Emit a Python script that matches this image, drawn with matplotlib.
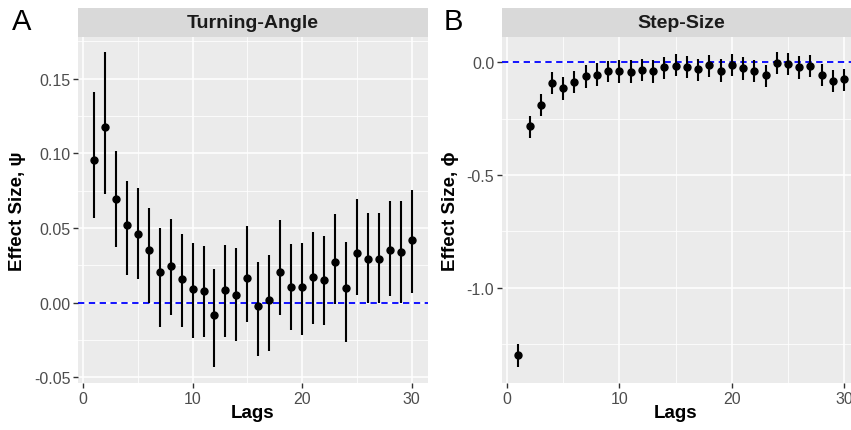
import matplotlib.pyplot as plt
from matplotlib.ticker import MultipleLocator

plt.rcParams['font.family'] = ['Liberation Sans', 'DejaVu Sans']

# values
lags = list(range(1, 31))

ta_est = [0.0958, 0.118, 0.0693, 0.0521, 0.0461, 0.0352, 0.0203, 0.0247, 0.0156, 0.0089,
          0.0078, -0.0085, 0.0082, 0.0049, 0.0165, -0.0020, 0.0020, 0.0207, 0.0105, 0.0105,
          0.0174, 0.0152, 0.0270, 0.0098, 0.0336, 0.0296, 0.0296, 0.0352, 0.0343, 0.0419]
ta_hi = [0.141, 0.1676, 0.1014, 0.0816, 0.0769, 0.0635, 0.0499, 0.0559, 0.0461, 0.0401,
         0.0381, 0.0227, 0.0388, 0.0368, 0.0515, 0.0274, 0.0321, 0.0555, 0.0394, 0.0401,
         0.0475, 0.0448, 0.0595, 0.0408, 0.0695, 0.0599, 0.0599, 0.0682, 0.0682, 0.0755]
ta_lo = [0.0568, 0.0729, 0.0372, 0.0183, 0.0156, 0.0000, -0.0165, -0.0085, -0.0165, -0.0239,
         -0.0232, -0.0432, -0.0229, -0.0259, -0.0131, -0.0356, -0.0325, -0.0085, -0.0185, -0.0218,
         -0.0145, -0.0152, -0.0011, -0.0265, 0.0049, 0.0000, 0.0000, 0.0042, 0.0000, 0.0067]

ss_est = [-1.300, -0.281, -0.188, -0.093, -0.114, -0.087, -0.062, -0.055, -0.040, -0.040,
          -0.042, -0.034, -0.039, -0.021, -0.015, -0.019, -0.031, -0.013, -0.037, -0.011,
          -0.027, -0.037, -0.056, -0.003, -0.008, -0.021, -0.015, -0.055, -0.083, -0.076]
ss_hi = [-1.249, -0.239, -0.142, -0.044, -0.065, -0.040, -0.013, -0.003, 0.004, 0.009,
         0.009, 0.013, 0.009, 0.022, 0.035, 0.026, 0.013, 0.031, 0.013, 0.035,
         0.022, 0.009, -0.010, 0.044, 0.040, 0.026, 0.031, -0.006, -0.036, -0.028]
ss_lo = [-1.353, -0.334, -0.236, -0.142, -0.166, -0.135, -0.112, -0.104, -0.089, -0.090,
         -0.092, -0.083, -0.092, -0.073, -0.062, -0.071, -0.083, -0.067, -0.086, -0.059,
         -0.077, -0.089, -0.108, -0.053, -0.058, -0.073, -0.067, -0.104, -0.133, -0.126]

W, H = 851, 431
fig = plt.figure(figsize=(W / 100, H / 100), dpi=100)


def px_box(x0, y0, x1, y1):
    return [x0 / W, 1 - y1 / H, (x1 - x0) / W, (y1 - y0) / H]


def panel(x0, x1, title, est, lo, hi, ymajor):
    ax = fig.add_axes(px_box(x0, 37.7, x1, 384))
    ax.set_facecolor('#EBEBEB')
    for s in ax.spines.values():
        s.set_visible(False)

    ax.vlines(lags, lo, hi, color='black', lw=1.5, zorder=3)
    ax.plot(lags, est, 'o', color='black', ms=5, zorder=4)
    ax.axhline(0, color='blue', lw=1.3, ls=(0, (3.5, 2.5)), zorder=2)

    ax.set_xlim(1 - 0.05 * 29, 30 + 0.05 * 29)
    ymin, ymax = min(lo), max(hi)
    pad = 0.05 * (ymax - ymin)
    ax.set_ylim(ymin - pad, ymax + pad)

    ax.xaxis.set_major_locator(MultipleLocator(10))
    ax.xaxis.set_minor_locator(MultipleLocator(5))
    ax.yaxis.set_major_locator(MultipleLocator(ymajor))
    ax.yaxis.set_minor_locator(MultipleLocator(ymajor / 2))
    ax.grid(which='major', color='white', lw=1.1)
    ax.grid(which='minor', color='white', lw=0.55)
    ax.set_axisbelow(True)
    ax.tick_params(which='major', length=3.5, width=1.0, color='#333333',
                   labelcolor='#4D4D4D', labelsize=11.5, pad=2)
    ax.tick_params(which='minor', length=0)

    strip = fig.add_axes(px_box(x0, 9, x1, 37.7))
    strip.set_facecolor('#D9D9D9')
    strip.set_xticks([])
    strip.set_yticks([])
    for s in strip.spines.values():
        s.set_visible(False)
    strip.text(0.5, 0.5, title, ha='center', va='center', fontsize=14,
               fontweight='bold', color='#1A1A1A', transform=strip.transAxes)
    return ax


ax1 = panel(78, 427.7, 'Turning-Angle', ta_est, ta_lo, ta_hi, 0.05)
ax1.yaxis.set_major_formatter(lambda v, p: f'{v:.2f}')
ax2 = panel(502, 860.5, 'Step-Size', ss_est, ss_lo, ss_hi, 0.5)
ax2.yaxis.set_major_formatter(lambda v, p: f'{v:.1f}')

fig.text(22 / W, 1 - 22 / H, 'A', fontsize=21, ha='center', va='center')
fig.text(453 / W, 1 - 22 / H, 'B', fontsize=21, ha='center', va='center')
fig.text(18 / W, 1 - 211 / H, 'Effect Size, ψ', rotation=90, fontsize=13.5,
         fontweight='bold', ha='center', va='center')
fig.text(450 / W, 1 - 211 / H, 'Effect Size, ϕ', rotation=90, fontsize=13.5,
         fontweight='bold', ha='center', va='center')
fig.text(253 / W, 1 - 414 / H, 'Lags', fontsize=13.5, fontweight='bold',
         ha='center', va='center')
fig.text(676 / W, 1 - 414 / H, 'Lags', fontsize=13.5, fontweight='bold',
         ha='center', va='center')

fig.savefig('out.png', dpi=100)
